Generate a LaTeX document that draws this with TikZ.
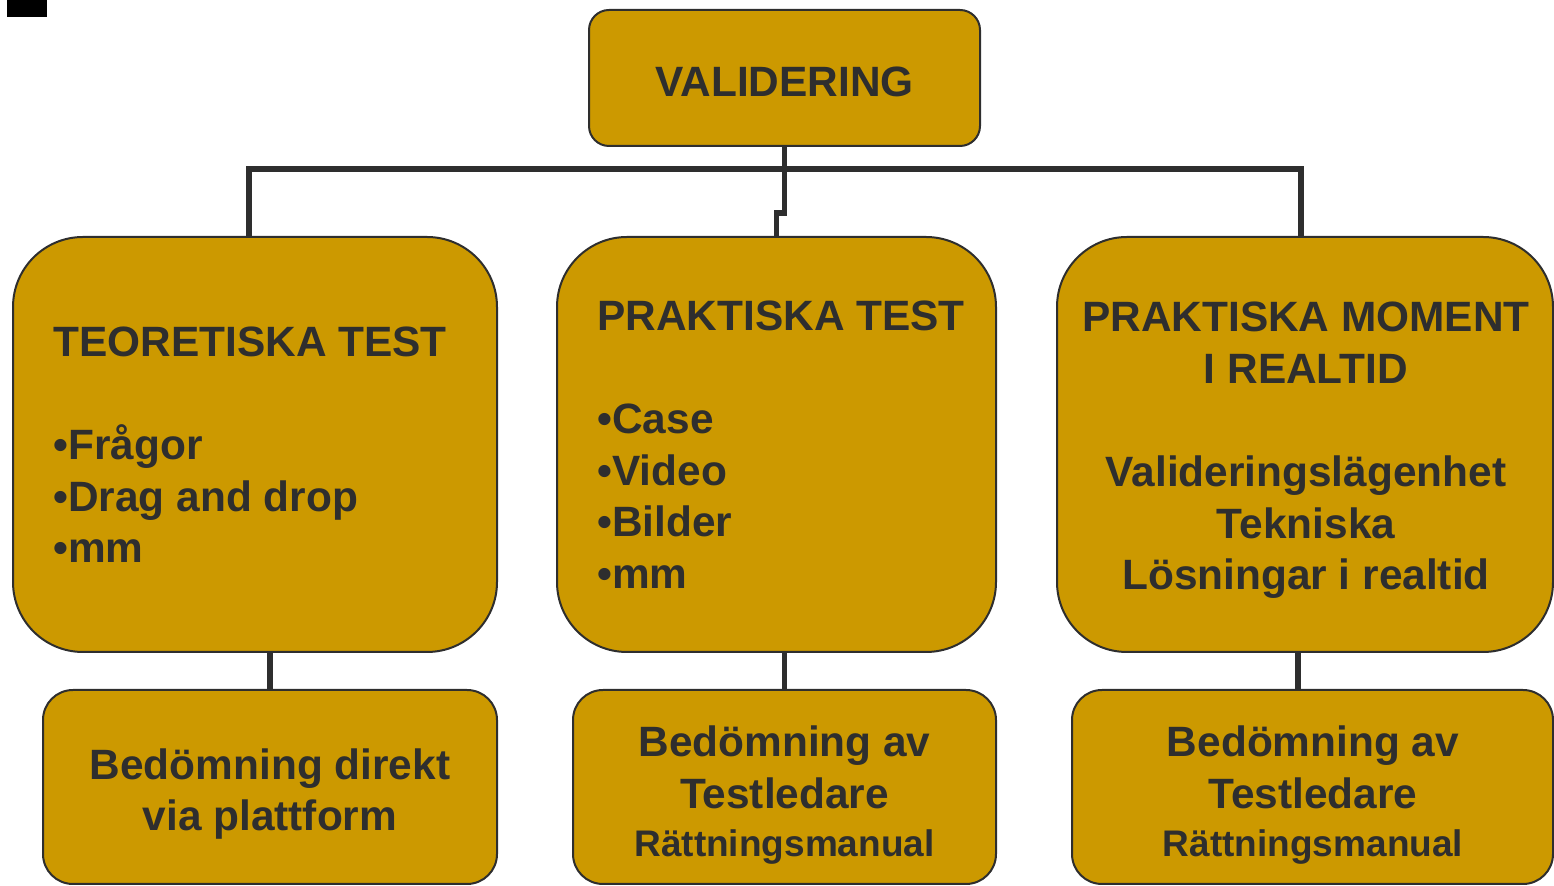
\documentclass[tikz,border=0pt]{standalone}
\usepackage{fontspec}
\setmainfont{Liberation Sans}
\definecolor{boxfill}{HTML}{CC9900}
\definecolor{ink}{HTML}{2E2E2E}
\begin{document}
\begin{tikzpicture}[x=0.5pt,y=-0.5pt,
  box/.style={draw=ink, line width=1pt, fill=boxfill, inner sep=0pt},
  txt/.style={text=ink, font=\fontsize{21.2}{25.8}\selectfont\bfseries, inner sep=0pt},
  link/.style={draw=ink, line width=2.6pt}]
\useasboundingbox (0,0) rectangle (1554,886);
\fill[black] (7,0) rectangle (47,17);
% boxes
\node[box, rounded corners=10pt, minimum width=195.5pt, minimum height=68pt] (val) at (784.5,78) {};
\node[box, rounded corners=35pt, minimum width=242pt, minimum height=207.5pt] (teo) at (255,444.5) {};
\node[box, rounded corners=35pt, minimum width=219.5pt, minimum height=207.5pt] (prak) at (776.5,444.5) {};
\node[box, rounded corners=35pt, minimum width=248pt, minimum height=207.5pt] (mom) at (1305,444.5) {};
\node[box, rounded corners=15pt, minimum width=227pt, minimum height=97pt] (bl) at (270,787) {};
\node[box, rounded corners=15pt, minimum width=211.5pt, minimum height=97pt] (bm) at (784.5,787) {};
\node[box, rounded corners=15pt, minimum width=240.5pt, minimum height=97pt] (br) at (1312.5,787) {};
% texts
\node[txt] (valt) at (784.5,82) {VALIDERING};
\node[txt, align=left, anchor=west] (teot) at (53,445) {TEORETISKA TEST\\[25.8pt]•Frågor\\•Drag and drop\\•mm};
\node[txt, align=left, anchor=west] (prakt) at (597,444.5) {PRAKTISKA TEST\\[25.8pt]•Case\\•Video\\•Bilder\\•mm};
\node[txt, align=center] (momt) at (1306,450.5) {PRAKTISKA MOMENT\\I REALTID\\[25.8pt]Valideringslägenhet\\Tekniska\\Lösningar i realtid};
\node[txt, align=center] (blt) at (270,794) {Bedömning direkt\\via plattform};
\node[txt, align=center] (bmt) at (784.5,795) {Bedömning av\\Testledare\\[-2pt]{\fontsize{18.5}{22}\selectfont Rättningsmanual}};
\node[txt, align=center] (brt) at (1313,795) {Bedömning av\\Testledare\\[-2pt]{\fontsize{18.5}{22}\selectfont Rättningsmanual}};
% connectors
\draw[link] (val.south) -- ++(0,22) -| ([xshift=-3pt]teo.north);
\draw[link] (val.south) -- ++(0,22) -| ([xshift=-2pt]mom.north);
\draw[link] (val.south) -- ++(0,66) -| (prak.north);
\draw[link] (bl.north |- teo.south) -- (bl.north);
\draw[link] (bm.north |- prak.south) -- (bm.north);
\draw[link] ([xshift=-3.5pt]mom.south) -- ([xshift=-3.5pt]mom.south |- br.north);
\end{tikzpicture}
\end{document}
